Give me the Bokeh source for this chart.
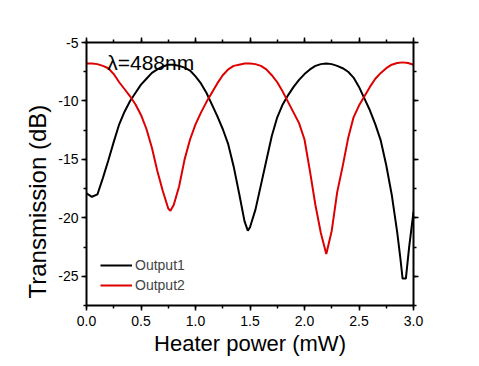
from bokeh.plotting import figure
from bokeh.models import (LinearAxis, SingleIntervalTicker, Range1d, Label, Legend, LegendItem,
                          NumeralTickFormatter, Title)
from bokeh.embed import file_html
from bokeh.resources import INLINE

# Data
power_out1 = [0.00, 0.05, 0.10, 0.15, 0.20, 0.25, 0.30, 0.35, 0.40, 0.45, 0.50, 0.55, 0.60, 0.65,
              0.70, 0.75, 0.80, 0.85, 0.90, 0.95, 1.00, 1.05, 1.10, 1.15, 1.20, 1.25, 1.30, 1.35,
              1.40, 1.45, 1.48, 1.50, 1.55, 1.60, 1.65, 1.70, 1.75, 1.80, 1.85, 1.90, 1.95, 2.00,
              2.05, 2.10, 2.15, 2.20, 2.25, 2.30, 2.35, 2.40, 2.45, 2.50, 2.55, 2.60, 2.65, 2.70,
              2.75, 2.80, 2.85, 2.88, 2.90, 2.93, 2.96, 3.00]
trans_out1 = [-17.9, -18.2, -18.0, -16.6, -15.1, -13.5, -12.0, -10.9, -10.0, -9.3, -8.6, -8.1, -7.6, -7.3,
              -7.05, -6.9, -6.9, -7.0, -7.15, -7.4, -7.9, -8.5, -9.3, -10.3, -11.3, -12.4, -13.7, -15.6,
              -17.9, -20.3, -21.1, -20.8, -19.3, -17.2, -15.1, -13.0, -11.4, -10.3, -9.5, -8.8, -8.2, -7.7,
              -7.3, -7.0, -6.85, -6.8, -6.85, -7.0, -7.2, -7.5, -8.0, -8.8, -9.8, -10.8, -12.0, -13.4,
              -15.5, -18.0, -21.2, -23.5, -25.2, -25.2, -22.5, -19.5]

power_out2 = [0.00, 0.05, 0.10, 0.15, 0.20, 0.25, 0.30, 0.35, 0.40, 0.45, 0.50, 0.55, 0.60, 0.65,
              0.70, 0.75, 0.77, 0.80, 0.85, 0.90, 0.95, 1.00, 1.05, 1.10, 1.15, 1.20, 1.25, 1.30,
              1.35, 1.40, 1.45, 1.50, 1.55, 1.60, 1.65, 1.70, 1.75, 1.80, 1.85, 1.90, 1.95, 2.00,
              2.05, 2.10, 2.15, 2.20, 2.25, 2.30, 2.35, 2.40, 2.45, 2.50, 2.55, 2.60, 2.65, 2.70,
              2.75, 2.80, 2.85, 2.90, 2.95, 3.00]
trans_out2 = [-6.8, -6.8, -6.85, -7.0, -7.2, -7.7, -8.4, -9.0, -9.6, -10.3, -11.2, -12.4, -14.0, -16.0,
              -17.7, -19.2, -19.4, -18.9, -17.3, -15.0, -13.3, -12.0, -11.0, -10.1, -9.3, -8.5, -7.8, -7.3,
              -7.0, -6.9, -6.8, -6.8, -6.85, -7.0, -7.3, -7.8, -8.4, -9.2, -10.1, -11.0, -11.9, -13.3,
              -16.0, -18.9, -21.3, -23.1, -21.1, -17.8, -15.6, -13.2, -11.4, -10.4, -9.6, -8.8, -8.1, -7.6,
              -7.2, -6.9, -6.75, -6.7, -6.75, -6.9]

x_range = (0.0, 3.0)
y_range = (-27.5, -5.0)
series_names = ["Output1", "Output2"]
series_colors = ["#000000", "#dd0000"]
annotation = "λ=488nm"
x_label = "Heater power (mW)"
y_label = "Transmission (dB)"

FONT = "Liberation Sans"

p = figure(width=470, height=360, output_backend="svg", toolbar_location=None,
           x_range=Range1d(*x_range), y_range=Range1d(*y_range),
           min_border_left=86, min_border_right=57, min_border_top=42, min_border_bottom=55,
           x_axis_location=None, y_axis_location=None)
p.grid.visible = False
p.outline_line_color = None
p.background_fill_color = "white"
p.border_fill_color = "white"

def style(ax, labels=True):
    ax.axis_line_width = 2
    ax.axis_line_color = "black"
    ax.major_tick_line_width = 1.5
    ax.minor_tick_line_width = 1.5
    ax.major_tick_line_color = "black"
    ax.minor_tick_line_color = "black"
    ax.major_tick_out = 5
    ax.major_tick_in = 0
    ax.minor_tick_out = 3
    ax.minor_tick_in = 0
    ax.major_label_text_font = FONT
    ax.major_label_text_font_size = "14px"
    ax.major_label_text_color = "black"
    if not labels:
        ax.major_label_text_color = None
        ax.major_label_text_font_size = "0px"

xt = dict(interval=0.5, num_minor_ticks=2)
yt = dict(interval=5, num_minor_ticks=2)

xb = LinearAxis(ticker=SingleIntervalTicker(**xt), axis_label=x_label,
                formatter=NumeralTickFormatter(format="0.0"))
style(xb)
xb.axis_label_text_font = FONT
xb.axis_label_text_font_size = "22px"
xb.axis_label_text_font_style = "normal"
xb.axis_label_text_color = "black"
xb.axis_label_standoff = 2
p.add_layout(xb, "below")

xa = LinearAxis(ticker=SingleIntervalTicker(**xt))
style(xa, labels=False)
p.add_layout(xa, "above")

yl = LinearAxis(ticker=SingleIntervalTicker(**yt), formatter=NumeralTickFormatter(format="0"))
style(yl)
yl.major_label_standoff = 3
p.add_layout(yl, "left")

yr = LinearAxis(ticker=SingleIntervalTicker(**yt))
style(yr, labels=False)
p.add_layout(yr, "right")

ytitle = Title(text=y_label, align="left", offset=7, text_font=FONT, text_font_size="24px",
               text_font_style="normal", text_color="black", standoff=10)
p.add_layout(ytitle, "left")

r1 = p.line(power_out1, trans_out1, line_color=series_colors[0], line_width=2)
r2 = p.line(power_out2, trans_out2, line_color=series_colors[1], line_width=2)

legend = Legend(items=[LegendItem(label=series_names[0], renderers=[r1]),
                       LegendItem(label=series_names[1], renderers=[r2])],
                location=(14, 11), padding=0, margin=0, spacing=2,
                glyph_width=32, glyph_height=18, label_height=18, label_standoff=3,
                label_text_font=FONT, label_text_font_size="14px",
                border_line_color=None, background_fill_alpha=0)
p.add_layout(legend, "center")

p.add_layout(Label(x=0.19, y=-6.7, text=annotation, text_font=FONT, text_font_size="21px",
                   text_color="black", text_baseline="alphabetic"))

open("out.html", "w").write(file_html(p, INLINE))
